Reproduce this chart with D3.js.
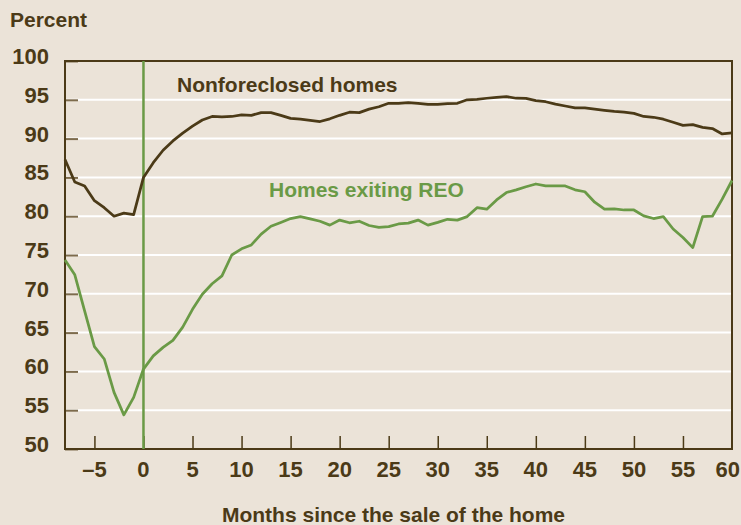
<!DOCTYPE html>
<html>
<head>
<meta charset="utf-8">
<script src="https://cdn.jsdelivr.net/npm/d3@7"></script>
<style>
  body { margin: 0; background: #ebe3d8; }
  svg { display: block; font-family: "Liberation Sans", Arial, sans-serif; font-weight: bold; }
</style>
</head>
<body>
<div id="chart"></div>
<script>
//DATA: SHARE OF HOMES (PERCENT) BY MONTH SINCE SALE, -8 TO 60
var nonforeclosed = [87.3, 84.4, 83.9, 82.0, 81.1, 80.0, 80.4, 80.2,
  85.0, 86.9, 88.5, 89.7, 90.7, 91.6, 92.4, 92.85, 92.8, 92.85,
  93.05, 93.0, 93.35, 93.35, 93.0, 92.6, 92.5, 92.35, 92.2, 92.55,
  93.0, 93.4, 93.35, 93.8, 94.1, 94.55, 94.55, 94.65, 94.55, 94.4,
  94.4, 94.5, 94.55, 95.0, 95.05, 95.2, 95.3, 95.4, 95.2, 95.18,
  94.9, 94.75, 94.45, 94.2, 93.95, 93.95, 93.8, 93.65, 93.5, 93.4,
  93.25, 92.85, 92.75, 92.5, 92.1, 91.7, 91.8, 91.45, 91.3, 90.6, 90.75];

var reo = [74.35, 72.45, 67.8, 63.2, 61.6, 57.3, 54.4, 56.65,
  60.3, 62.0, 63.1, 64.0, 65.7, 68.0, 69.95, 71.3, 72.3, 75.0,
  75.8, 76.3, 77.7, 78.7, 79.2, 79.7, 79.95, 79.65, 79.35, 78.85,
  79.5, 79.15, 79.35, 78.8, 78.55, 78.65, 79.0, 79.1, 79.5, 78.85,
  79.2, 79.6, 79.5, 79.95, 81.1, 80.9, 82.1, 83.05, 83.4, 83.8,
  84.15, 83.9, 83.9, 83.9, 83.4, 83.15, 81.8, 80.9, 80.95, 80.8,
  80.8, 80.05, 79.7, 79.95, 78.35, 77.25, 75.95, 79.95, 80.0, 82.2, 84.6];

var BROWN = '#4b3a17';
var GREEN = '#6a9a46';

//SETUP SVG DIMENSIONS
var W = 741, H = 525;
var margin = { top: 61, left: 65, right: 9, bottom: 76 };
var width = W - margin.left - margin.right;
var height = H - margin.top - margin.bottom;

var svg = d3.select("#chart")
  .append("svg")
  .attr("width", W)
  .attr("height", H);

svg.append("rect")
  .attr("width", W)
  .attr("height", H)
  .attr("fill", "#ebe3d8");

var g = svg.append("g")
  .attr("transform", "translate(" + margin.left + "," + margin.top + ")");

//SCALES
var x = d3.scaleLinear().domain([-8, 60]).range([0, width]);
var y = d3.scaleLinear().domain([50, 100]).range([height, 0]);

//WHITE GRIDLINES
g.selectAll(".grid")
  .data(d3.range(55, 100, 5))
  .enter()
  .append("line")
  .attr("class", "grid")
  .attr("x1", 0)
  .attr("x2", width)
  .attr("y1", function(d){ return y(d); })
  .attr("y2", function(d){ return y(d); })
  .attr("stroke", "#ffffff")
  .attr("stroke-width", 2);

//Y AXIS (TICKS INSIDE)
var yAxis = g.append("g")
  .call(d3.axisRight(y).tickValues(d3.range(50, 101, 5)).tickSize(13).tickFormat(""));
yAxis.select(".domain").remove();
yAxis.selectAll(".tick line").attr("stroke", "#7d6b4c").attr("stroke-width", 2);

g.selectAll(".ylab")
  .data(d3.range(50, 101, 5))
  .enter()
  .append("text")
  .attr("class", "ylab")
  .attr("x", -16)
  .attr("y", function(d){ return y(d) + 3; })
  .attr("text-anchor", "end")
  .attr("fill", BROWN)
  .style("font-size", "22px")
  .text(function(d){ return d; });

//X AXIS (TICKS INSIDE, POINTING UP)
var xAxis = g.append("g")
  .attr("transform", "translate(0," + height + ")")
  .call(d3.axisTop(x).tickValues(d3.range(-5, 60, 5)).tickSize(13).tickFormat(""));
xAxis.select(".domain").remove();
xAxis.selectAll(".tick line").attr("stroke", BROWN).attr("stroke-width", 1.5);

//last label sits against the right edge like the original
g.selectAll(".xlab")
  .data(d3.range(-5, 61, 5))
  .enter()
  .append("text")
  .attr("class", "xlab")
  .attr("x", function(d){ return d == 60 ? width + margin.right - 1 : x(d); })
  .attr("y", height + 28)
  .attr("text-anchor", function(d){ return d == 60 ? "end" : "middle"; })
  .attr("fill", BROWN)
  .style("font-size", "22px")
  .text(function(d){ return d < 0 ? '\u2013' + Math.abs(d) : d; });

//FRAME
g.append("rect")
  .attr("width", width)
  .attr("height", height)
  .attr("fill", "none")
  .attr("stroke", BROWN)
  .attr("stroke-width", 2);

//SALE MONTH MARKER
g.append("line")
  .attr("x1", x(0)).attr("x2", x(0))
  .attr("y1", 0).attr("y2", height)
  .attr("stroke", GREEN)
  .attr("stroke-width", 2.5);

//LINES
var line = d3.line()
  .x(function(d, i){ return x(i - 8); })
  .y(function(d){ return y(d); });

g.append("path")
  .datum(reo)
  .attr("d", line)
  .attr("fill", "none")
  .attr("stroke", GREEN)
  .attr("stroke-width", 2.75)
  .attr("stroke-linejoin", "round");

g.append("path")
  .datum(nonforeclosed)
  .attr("d", line)
  .attr("fill", "none")
  .attr("stroke", BROWN)
  .attr("stroke-width", 2.75)
  .attr("stroke-linejoin", "round");

//LABELS
g.append("text")
  .attr("x", 112)
  .attr("y", 31)
  .attr("fill", BROWN)
  .style("font-size", "21px")
  .text("Nonforeclosed homes");

g.append("text")
  .attr("x", 204)
  .attr("y", 136)
  .attr("fill", GREEN)
  .style("font-size", "21px")
  .text("Homes exiting REO");

svg.append("text")
  .attr("x", 10)
  .attr("y", 27)
  .attr("fill", BROWN)
  .style("font-size", "21px")
  .text("Percent");

svg.append("text")
  .attr("x", margin.left + width / 2 - 5)
  .attr("y", 522)
  .attr("text-anchor", "middle")
  .attr("fill", BROWN)
  .style("font-size", "21px")
  .text("Months since the sale of the home");
</script>
</body>
</html>
